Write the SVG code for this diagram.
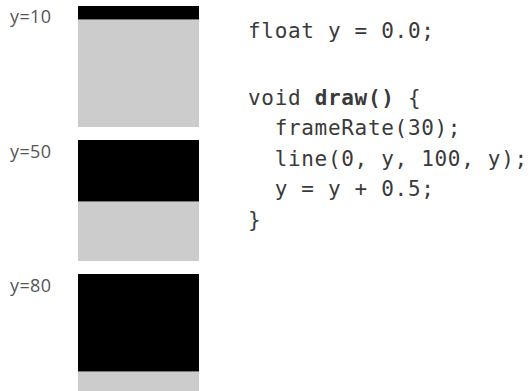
<svg xmlns="http://www.w3.org/2000/svg" width="531" height="391" viewBox="0 0 531 391">
<style>
.lbl{font-family:"Open Sans","DejaVu Sans",sans-serif;font-size:18px;fill:#555;letter-spacing:0.4px;}
.code{font-family:"DejaVu Sans Mono","Liberation Mono",monospace;font-size:21px;fill:#3a3a3a;white-space:pre;letter-spacing:0.68px;}
.bg{fill:#cccccc;}
.fg{fill:#000;}
.edge{stroke:#777;stroke-width:1;}
</style>
<rect width="531" height="391" fill="#fff"/>
<g id="frame1">
<text class="lbl" x="10" y="23">y=10</text>
<rect class="bg" x="78" y="6" width="121" height="121"/>
<rect class="fg" x="78" y="6" width="121" height="13"/>
<line class="edge" x1="78" y1="19.5" x2="199" y2="19.5"/>
</g>
<g id="frame2">
<text class="lbl" x="10" y="158">y=50</text>
<rect class="bg" x="78" y="140" width="121" height="121"/>
<rect class="fg" x="78" y="140" width="121" height="61"/>
<line class="edge" x1="78" y1="201.5" x2="199" y2="201.5"/>
</g>
<g id="frame3">
<text class="lbl" x="10" y="292">y=80</text>
<rect class="bg" x="78" y="274" width="121" height="121"/>
<rect class="fg" x="78" y="274" width="121" height="97"/>
<line class="edge" x1="78" y1="371.5" x2="199" y2="371.5"/>
</g>
<g id="code">
<text class="code" x="248" y="38">float y = 0.0;</text>
<text class="code" x="248" y="105">void <tspan font-weight="bold">draw()</tspan> {</text>
<text class="code" x="248" y="135">  frameRate(30);</text>
<text class="code" x="248" y="166">  line(0, y, 100, y);</text>
<text class="code" x="248" y="196">  y = y + 0.5;</text>
<text class="code" x="248" y="227">}</text>
</g>
<g id="connectors"/>
</svg>
